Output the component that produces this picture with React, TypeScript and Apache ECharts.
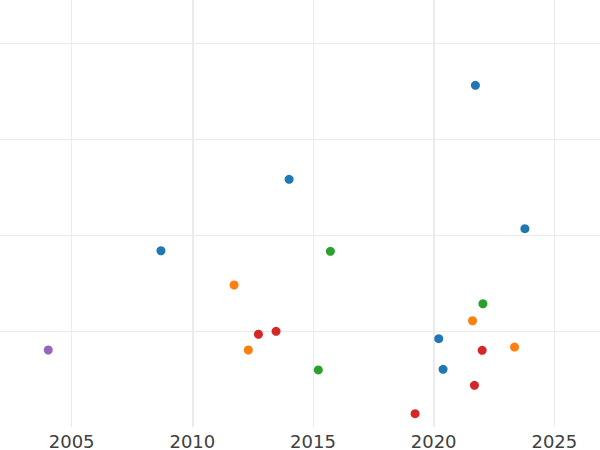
import React, { useEffect, useRef } from "react";
import * as echarts from "echarts";

const COLORS = ["#1f77b4", "#ff7f0e", "#2ca02c", "#d62728", "#9467bd"];

const blueX = [2021.73, 2014.01, 2023.78, 2008.7, 2020.21, 2020.39];
const blueY = [3.559, 2.58, 2.066, 1.836, 0.92, 0.601];

const orangeX = [2011.73, 2012.32, 2021.61, 2023.35];
const orangeY = [1.479, 0.802, 1.107, 0.833];

const greenX = [2015.72, 2022.04, 2015.22];
const greenY = [1.83, 1.284, 0.594];

const redX = [2012.74, 2013.47, 2022.01, 2021.69, 2019.23];
const redY = [0.966, 0.997, 0.799, 0.434, 0.139];

const purpleX = [2004.03];
const purpleY = [0.802];

const groups = [
  { name: "blue", xs: blueX, ys: blueY },
  { name: "orange", xs: orangeX, ys: orangeY },
  { name: "green", xs: greenX, ys: greenY },
  { name: "red", xs: redX, ys: redY },
  { name: "purple", xs: purpleX, ys: purpleY },
];

const X_MIN = 2000;
const X_MAX = 2030;
const Y_MIN = 0;
const Y_MAX = 4.448;

export default function App() {
  const ref = useRef<HTMLDivElement>(null);

  useEffect(() => {
    if (!ref.current) return;
    const chart = echarts.init(ref.current, undefined, { renderer: "svg" });
    const gridColor = "#ebebeb";
    chart.setOption({
      animation: false,
      backgroundColor: "#ffffff",
      grid: {
        left: -49,
        right: -75,
        top: 0,
        bottom: 23,
        containLabel: false,
        outerBoundsMode: "none",
      },
      xAxis: [
        {
          type: "value",
          min: X_MIN,
          max: X_MAX,
          interval: 5,
          axisLine: { show: false },
          axisTick: { show: false },
          axisLabel: {
            show: true,
            margin: 5,
            fontSize: 18,
            fontFamily: "DejaVu Sans",
            color: "#404040",
            hideOverlap: false,
            showMinLabel: false,
            showMaxLabel: false,
            formatter: (v: number) => String(Math.round(v)),
          },
          splitLine: { show: true, lineStyle: { color: gridColor, width: 1 } },
        },
        {
          type: "value",
          min: X_MIN,
          max: X_MAX,
          interval: 10,
          position: "bottom",
          axisLine: { show: false },
          axisTick: { show: false },
          axisLabel: { show: false },
          splitLine: { show: true, lineStyle: { color: gridColor, width: 2 } },
        },
      ],
      yAxis: {
        type: "value",
        min: Y_MIN,
        max: Y_MAX,
        interval: 1,
        axisLine: { show: false },
        axisTick: { show: false },
        axisLabel: { show: false },
        splitLine: {
          show: true,
          showMinLine: false,
          showMaxLine: false,
          lineStyle: { color: gridColor, width: 1 },
        },
      },
      series: groups.map((g, i) => ({
        name: g.name,
        type: "scatter",
        xAxisIndex: 0,
        symbol: "circle",
        symbolSize: 9,
        itemStyle: { color: COLORS[i], opacity: 1 },
        data: g.xs.map((x, j) => [x, g.ys[j]]),
      })),
    });
    return () => chart.dispose();
  }, []);

  return (
    <div
      ref={ref}
      style={{ width: 600, height: 450, position: "absolute", left: 0, top: 0 }}
    />
  );
}
